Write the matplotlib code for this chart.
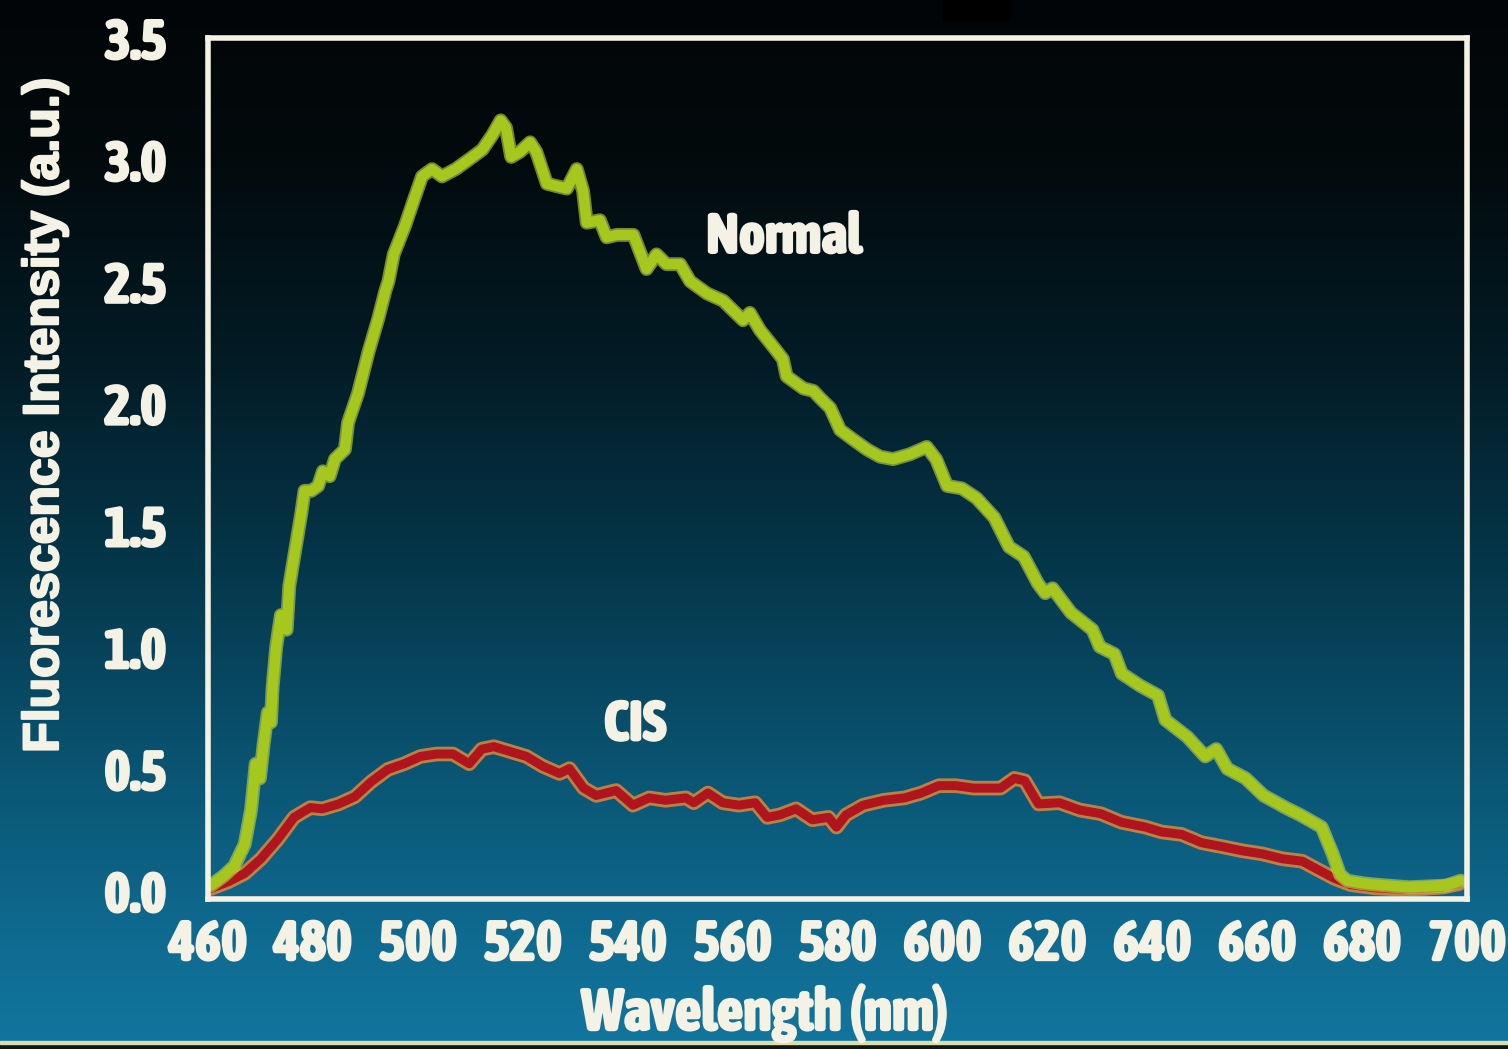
import numpy as np
import matplotlib
matplotlib.use("Agg")
import matplotlib.pyplot as plt
from matplotlib import font_manager as fm
from matplotlib.colors import LinearSegmentedColormap
from matplotlib.patches import Rectangle
import matplotlib.patheffects as pe

# ---------------- data ----------------
normal_wl = [460.5, 463.0, 465.0, 467.0, 468.2, 469.1, 469.9, 470.6, 471.4, 472.0,
             472.3, 473.0, 473.9, 475.0, 475.5, 476.8, 477.8, 478.4, 479.7, 481.0,
             481.9, 483.2, 484.2, 486.1, 486.7, 488.6, 490.6, 492.5, 493.8, 494.4,
             495.4, 497.6, 499.5, 500.8, 502.7, 504.6, 507.2, 509.8, 512.3, 514.2,
             515.8, 516.8, 517.8, 519.4, 521.4, 522.6, 524.6, 526.5, 528.4, 530.3,
             531.5, 532.2, 534.7, 536.0, 537.9, 541.1, 543.6, 545.5, 547.4, 550.0,
             551.9, 555.1, 558.2, 560.1, 562.0, 563.3, 565.2, 567.8, 569.6, 570.3,
             573.5, 575.4, 576.7, 578.6, 580.5, 583.0, 585.6, 588.1, 590.6, 593.8,
             597.0, 598.8, 600.9, 603.7, 606.5, 609.9, 612.7, 615.5, 618.2, 619.6,
             621.0, 624.5, 628.6, 630.0, 632.8, 634.2, 637.7, 641.1, 642.5, 646.7,
             650.1, 652.2, 654.3, 657.8, 661.2, 665.4, 668.2, 672.3, 674.4, 675.8,
             677.2, 680.0, 682.0, 689.0, 696.0, 698.8]
normal_val = [0.02, 0.06, 0.10, 0.19, 0.33, 0.52, 0.46, 0.60, 0.73, 0.69,
              0.83, 1.00, 1.13, 1.07, 1.25, 1.42, 1.55, 1.64, 1.64, 1.66,
              1.72, 1.70, 1.77, 1.81, 1.92, 2.04, 2.21, 2.35, 2.46, 2.50,
              2.61, 2.73, 2.85, 2.93, 2.96, 2.93, 2.96, 3.00, 3.04, 3.10,
              3.16, 3.13, 3.01, 3.03, 3.07, 3.03, 2.90, 2.89, 2.88, 2.96,
              2.87, 2.74, 2.75, 2.68, 2.69, 2.69, 2.55, 2.61, 2.57, 2.57,
              2.50, 2.45, 2.42, 2.38, 2.34, 2.37, 2.30, 2.23, 2.18, 2.11,
              2.06, 2.05, 2.02, 1.98, 1.89, 1.85, 1.81, 1.78, 1.77, 1.79,
              1.82, 1.77, 1.66, 1.65, 1.61, 1.53, 1.41, 1.37, 1.26, 1.22,
              1.24, 1.14, 1.07, 1.00, 0.97, 0.89, 0.84, 0.80, 0.70, 0.63,
              0.55, 0.58, 0.50, 0.46, 0.39, 0.34, 0.31, 0.26, 0.15, 0.065,
              0.04, 0.03, 0.025, 0.013, 0.02, 0.04]

cis_wl = [460.4, 463.9, 467.0, 470.1, 473.3, 476.4, 479.5, 481.8, 484.9, 488.0,
          491.1, 494.3, 497.4, 500.5, 503.6, 506.7, 509.8, 512.2, 514.5, 517.6,
          520.7, 523.8, 527.0, 528.9, 531.6, 534.0, 537.8, 541.0, 544.1, 547.2,
          551.1, 552.6, 555.3, 558.1, 561.2, 564.3, 566.6, 569.0, 572.1, 575.2,
          578.3, 579.8, 581.6, 584.9, 588.8, 592.8, 596.0, 599.3, 602.6, 605.9,
          609.1, 611.1, 613.7, 615.7, 618.3, 622.3, 626.2, 630.2, 634.1, 638.7,
          641.8, 645.6, 649.4, 653.3, 657.1, 661.0, 664.8, 668.6, 671.7, 674.7,
          677.8, 682.4, 687.8, 691.6, 695.4, 698.5]
cis_val = [0.007, 0.036, 0.07, 0.13, 0.21, 0.30, 0.34, 0.335, 0.355, 0.385,
           0.446, 0.497, 0.52, 0.55, 0.56, 0.56, 0.52, 0.58, 0.59, 0.57,
           0.55, 0.51, 0.48, 0.50, 0.42, 0.39, 0.41, 0.35, 0.38, 0.37,
           0.38, 0.36, 0.40, 0.36, 0.35, 0.36, 0.30, 0.31, 0.335, 0.29,
           0.30, 0.26, 0.31, 0.35, 0.37, 0.38, 0.40, 0.43, 0.43, 0.42,
           0.42, 0.42, 0.46, 0.45, 0.355, 0.36, 0.33, 0.315, 0.28, 0.26,
           0.24, 0.23, 0.196, 0.18, 0.163, 0.15, 0.13, 0.12, 0.084, 0.05,
           0.024, 0.011, 0.005, 0.008, 0.014, 0.028]

x_ticks = [460, 480, 500, 520, 540, 560, 580, 600, 620, 640, 660, 680, 700]
x_tick_labels = [str(v) for v in x_ticks]
x_marked = [480, 500, 520]
y_ticks = [0.0, 0.5, 1.0, 1.5, 2.0, 2.5, 3.0, 3.5]
y_tick_labels = ["0.0", "0.5", "1.0", "1.5", "2.0", "2.5", "3.0", "3.5"]
y_marked = [0.5, 1.0, 1.5, 2.0, 2.5, 3.0]

# ---------------- fonts ----------------
def _is_bold(w):
    if isinstance(w, (int, float)):
        return w >= 600
    return str(w).lower() in ("bold", "heavy", "black", "extra bold", "demibold",
                              "semibold", "ultrabold")

NARROW_FP = None
for f in fm.fontManager.ttflist:
    nm = f.name
    narrowish = ("Narrow" in nm or "Condensed" in nm
                 or str(f.stretch) in ("condensed", "semi-condensed", "extra-condensed"))
    if narrowish and _is_bold(f.weight):
        NARROW_FP = f
        if "Narrow" in nm or "Condensed" in nm:
            break

if NARROW_FP is not None:
    NARROW_KW = dict(family=NARROW_FP.name, weight="bold", stretch=NARROW_FP.stretch)
    TICK_FS, XLAB_FS, LAB_FS = 40, 42, 40
else:
    NARROW_KW = dict(family="Liberation Sans", weight="bold")
    TICK_FS, XLAB_FS, LAB_FS = 34, 34, 34
WIDE = "Liberation Sans"
TXT = "#f4f2e4"
THICK = [pe.withStroke(linewidth=1.6, foreground=TXT)]

W, H, DPI = 1508, 1049, 100
fig = plt.figure(figsize=(W / DPI, H / DPI), dpi=DPI)

# background gradient (black at top to teal blue at bottom)
bg = fig.add_axes([0, 0, 1, 1], zorder=-10)
stops = [(0.00, (0.01, 0.02, 0.03)),
         (0.15, (0.01, 0.04, 0.05)),
         (0.35, (0.01, 0.11, 0.15)),
         (0.55, (0.02, 0.22, 0.30)),
         (0.75, (0.04, 0.34, 0.46)),
         (0.90, (0.06, 0.42, 0.57)),
         (1.00, (0.07, 0.46, 0.62))]
cmap = LinearSegmentedColormap.from_list("slide", stops)
grad = np.linspace(0, 1, 600).reshape(-1, 1)
bg.imshow(grad, aspect="auto", cmap=cmap, extent=[0, 1, 0, 1], origin="upper")
bg.set_xlim(0, 1)
bg.set_ylim(0, 1)
bg.axis("off")
# slide frame details
bg.add_patch(Rectangle((0, 0), 1, 5 / H, color="#101810", zorder=2))
bg.add_patch(Rectangle((0, 5 / H), 1, 3 / H, color="#d9deb0", zorder=2))
bg.add_patch(Rectangle((943 / W, 1 - 20 / H), 67 / W, 20 / H, color="black", zorder=2))

# main axes
ax = fig.add_axes([208 / W, 1 - 899 / H, (1467 - 208) / W, (899 - 37.5) / H])
ax.patch.set_alpha(0)
ax.set_xlim(460, 700)
ax.set_ylim(-0.035, 3.5)

# CIS (red with orange fringe)
ax.plot(cis_wl, cis_val, color="#d98a3c", lw=10.5, solid_capstyle="round",
        solid_joinstyle="round", alpha=0.85, zorder=3)
ax.plot(cis_wl, cis_val, color="#b0141c", lw=6.5, solid_capstyle="round",
        solid_joinstyle="round", zorder=4)
# Normal (yellow-green)
ax.plot(normal_wl, normal_val, color="#c4d64a", lw=10, solid_capstyle="round",
        solid_joinstyle="round", alpha=0.6, zorder=5)
ax.plot(normal_wl, normal_val, color="#a5c71e", lw=7.5, solid_capstyle="round",
        solid_joinstyle="round", zorder=6)

for s in ax.spines.values():
    s.set_color(TXT)
    s.set_linewidth(4)
    s.set_zorder(7)

# labelled major ticks (no marks) + marked minor ticks
ax.set_xticks(x_ticks)
ax.set_xticklabels(x_tick_labels)
ax.set_yticks(y_ticks)
ax.set_yticklabels(y_tick_labels)
ax.set_xticks(x_marked, minor=True)
ax.set_yticks(y_marked, minor=True)
ax.tick_params(axis="both", which="major", length=0, colors=TXT)
ax.tick_params(axis="x", which="major", pad=13)
ax.tick_params(axis="y", which="major", pad=30)
ax.tick_params(axis="x", which="minor", direction="inout", length=26, width=4,
               color=TXT)
ax.tick_params(axis="y", which="minor", direction="inout", length=32, width=4,
               color=TXT)
for lab in list(ax.get_xticklabels()) + list(ax.get_yticklabels()):
    lab.set_fontproperties(fm.FontProperties(size=TICK_FS, **NARROW_KW))
    lab.set_color(TXT)
    lab.set_path_effects(THICK)

# axis titles
fig.text(765 / W, 1 - 1013 / H, "Wavelength (nm)", fontsize=XLAB_FS, color=TXT,
         ha="center", va="center", path_effects=THICK, **NARROW_KW)
fig.text(45 / W, 1 - 415 / H, "Fluorescence Intensity (a.u.)", family=WIDE,
         weight="bold", fontsize=36, color=TXT, ha="center", va="center",
         rotation=90, path_effects=THICK)

# curve labels
ax.text(569.8, 2.68, "Normal", fontsize=LAB_FS, color=TXT, ha="center",
        va="center", zorder=8, path_effects=THICK, **NARROW_KW)
ax.text(541.4, 0.68, "CIS", fontsize=LAB_FS, color=TXT, ha="center",
        va="center", zorder=8, path_effects=THICK, **NARROW_KW)

fig.savefig("out.png", dpi=DPI)
